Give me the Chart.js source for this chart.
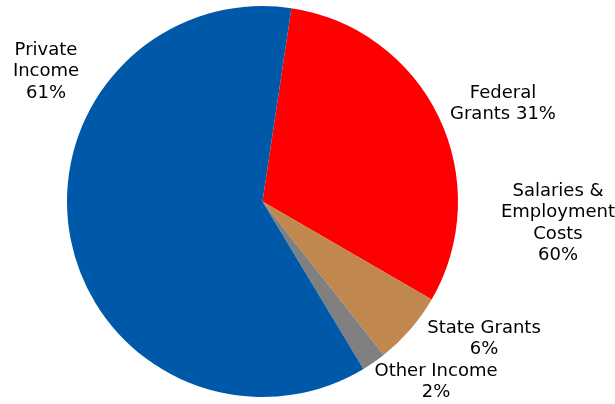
<!DOCTYPE html>
<html>
<head>
<meta charset="utf-8">
<script src="https://cdn.jsdelivr.net/npm/chart.js@4/dist/chart.umd.min.js"></script>
<style>
  html, body { margin: 0; padding: 0; background: #fff; }
  #wrap { width: 615px; height: 404px; }
</style>
</head>
<body>
<div id="wrap"><canvas id="incomeChart" width="615" height="404"></canvas></div>
<script>
// Data
const categories = ['Federal Grants', 'State Grants', 'Other Income', 'Private Income'];
const values = [31, 6, 2, 61];
const sliceColors = ['#FF0000', '#C0874F', '#808080', '#0058A8'];

// Label text (lines) for each slice, plus the extra note on the right
const sliceLabels = [
  ['Federal', 'Grants 31%'],
  ['State Grants', '6%'],
  ['Other Income', '2%'],
  ['Private', 'Income', '61%'],
];
const noteLabel = ['Salaries &', 'Employment', 'Costs', '60%'];

// Where each label block sits (centre x, middle of first line y)
const labelPos = [
  { x: 503, y: 93 },
  { x: 484, y: 328 },
  { x: 436, y: 371 },
  { x: 46, y: 50 },
];
const notePos = { x: 558, y: 191 };
const lineHeight = 21.5;

const labelPlugin = {
  id: 'outerLabels',
  afterDraw(chart) {
    const ctx = chart.ctx;
    ctx.save();
    ctx.font = '18px "DejaVu Sans", Verdana, sans-serif';
    ctx.fillStyle = '#000';
    ctx.textAlign = 'center';
    ctx.textBaseline = 'middle';
    const drawBlock = (lines, pos) => {
      lines.forEach((line, i) => {
        ctx.fillText(line, pos.x, pos.y + i * lineHeight);
      });
    };
    sliceLabels.forEach((lines, i) => drawBlock(lines, labelPos[i]));
    drawBlock(noteLabel, notePos);
    ctx.restore();
  },
};

const ctx = document.getElementById('incomeChart');
new Chart(ctx, {
  type: 'pie',
  data: {
    labels: categories,
    datasets: [
      {
        data: values,
        backgroundColor: sliceColors,
        borderWidth: 0,
      },
    ],
  },
  options: {
    responsive: false,
    animation: false,
    rotation: 8.5,
    layout: {
      padding: { left: 67, right: 157, top: 6, bottom: 7 },
    },
    plugins: {
      legend: { display: false },
      tooltip: { enabled: false },
    },
  },
  plugins: [labelPlugin],
});
</script>
</body>
</html>
